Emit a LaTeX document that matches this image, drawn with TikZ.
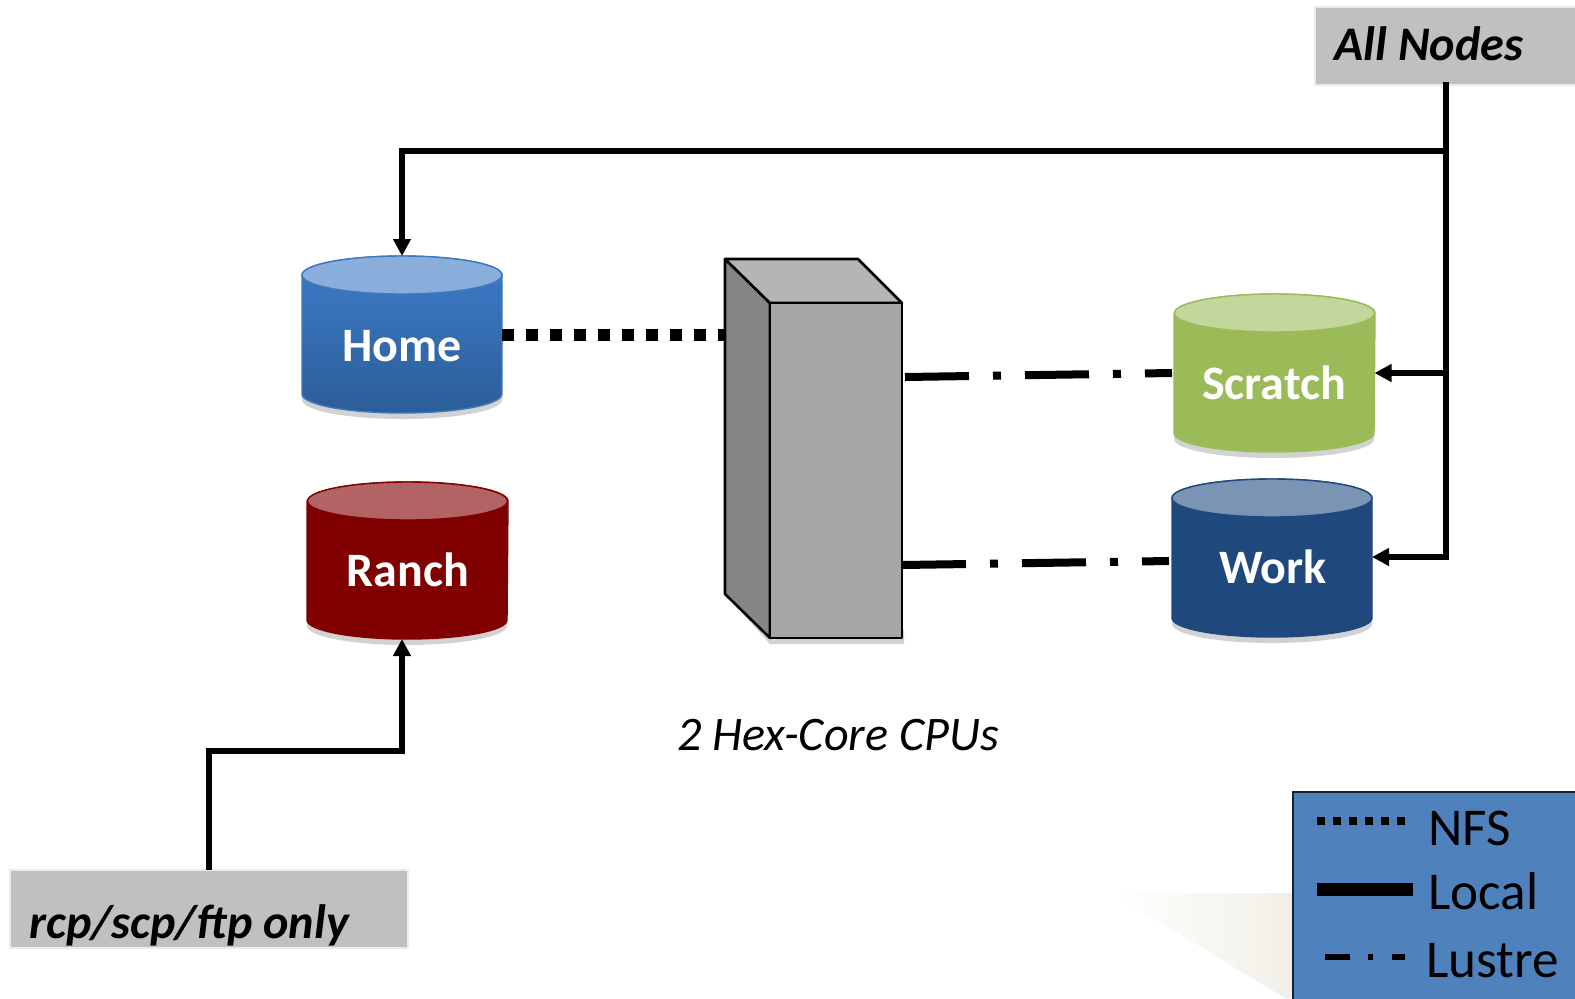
\documentclass[tikz,border=0pt]{standalone}
\usepackage{fontspec}
\setmainfont{Carlito}
\usetikzlibrary{arrows.meta}
\definecolor{boxedge}{HTML}{EEECE1}
\definecolor{boxgray}{HTML}{C0C0C0}
\definecolor{shadowgray}{HTML}{D2D2D2}
\definecolor{homeTop}{HTML}{3D7CC9}
\definecolor{homeBot}{HTML}{2C5D98}
\definecolor{homeLid}{HTML}{8AAEDC}
\definecolor{homeEdge}{HTML}{3F78BC}
\definecolor{ranchred}{HTML}{800000}
\definecolor{ranchLid}{HTML}{B26464}
\definecolor{scratchgreen}{HTML}{9BBB59}
\definecolor{scratchLid}{HTML}{C3D69B}
\definecolor{workblue}{HTML}{1F497D}
\definecolor{workLid}{HTML}{7A94B5}
\definecolor{legendblue}{HTML}{4F81BD}
\tikzset{
  anchorbox/.style={inner sep=0pt,outer sep=0pt,draw=none},
  cyltext/.style={anchor=base,text=white,font=\fontsize{24}{28}\selectfont\bfseries,inner sep=0pt},
  tagbox/.style={fill=boxgray,draw=boxedge,line width=1pt,inner sep=0pt,outer sep=0pt},
  tagtext/.style={anchor=base west,inner sep=0pt,font=\fontsize{24.1}{28}\selectfont\bfseries\itshape},
  legendtext/.style={anchor=base west,inner sep=0pt,font=\fontsize{26.6}{30}\selectfont},
  localline/.style={line width=2.9pt,draw=black},
  localarrow/.style={localline,-{Triangle[length=8.5pt,width=8.5pt]}},
  nfsline/.style={line width=6pt,draw=black,dash pattern=on 6pt off 6pt},
  lustreline/.style={line width=4pt,draw=black,dash pattern=on 32pt off 12pt on 4pt off 12pt},
}
% name, x1, x2, top, bottom, body fill options, lid colour, edge colour
\newcommand{\cylshape}[8]{%
  \path[fill=shadowgray] ({#2},{#5-19+6}) arc[start angle=180,end angle=360,x radius=50pt,y radius=9.5pt] -- ({#3},{#4+30}) -- ({#2},{#4+30}) -- cycle;
  \path[#6,draw=#8,line width=0.7pt] ({#2},{#4+19}) -- ({#2},{#5-19}) arc[start angle=180,end angle=360,x radius=50pt,y radius=9.5pt] -- ({#3},{#4+19}) arc[start angle=0,end angle=180,x radius=50pt,y radius=9.5pt] -- cycle;
  \path[fill=#7,draw=#8,line width=0.7pt] ({(#2+#3)/2},{#4+19}) ellipse[x radius=50pt,y radius=9.5pt];
  \node[anchorbox,minimum width=100pt,minimum height={(#5-#4)*0.5pt}] (#1) at ({(#2+#3)/2},{(#4+#5)/2}) {};
}
\begin{document}
\begin{tikzpicture}[x=0.5pt,y=-0.5pt]
\useasboundingbox (0,0) rectangle (1575,998);
\fill[white] (0,0) rectangle (1575,998);

% faint shadow behind the legend
\shade[left color=white,middle color=boxedge!85!white,right color=boxedge!85!white] (1112,893) -- (1300,893) -- (1300,998) -- (1285,998) -- cycle;

% storage cylinders
\cylshape{home}{302}{502}{256}{413}{top color=homeTop,bottom color=homeBot}{homeLid}{homeEdge}
\cylshape{ranch}{307}{508}{482}{639}{fill=ranchred}{ranchLid}{ranchred}
\cylshape{scratch}{1174}{1375}{294}{452}{fill=scratchgreen}{scratchLid}{scratchgreen}
\cylshape{work}{1172}{1372}{479}{637}{fill=workblue}{workLid}{workblue}
\node[cyltext] (homeText) at (402,361) {Home};
\node[cyltext] (ranchText) at (408,586) {Ranch};
\node[cyltext] (scratchText) at (1274,399) {Scratch};
\node[cyltext] (workText) at (1273,583) {Work};

% server block
\fill[shadowgray] (725,594) -- (770,644) -- (904,644) -- (904,630) -- (725,590) -- cycle;
\path[fill=black!48,draw=black,line width=1.3pt,line join=round] (725,259) -- (770,303) -- (770,638) -- (725,594) -- cycle;
\path[fill=black!29,draw=black,line width=1.3pt,line join=round] (725,259) -- (858,259) -- (902,303) -- (770,303) -- cycle;
\path[fill=black!35,draw=black,line width=1.3pt,line join=round] (770,303) rectangle (902,638);
\node[anchorbox,minimum width=88.5pt,minimum height=189.5pt] (server) at (813.5,448.5) {};
\node[anchor=base,inner sep=0pt,font=\fontsize{24.1}{28}\selectfont\itshape] (serverText) at (838,750) {2 Hex-Core CPUs};

% tag boxes
\node[tagbox,minimum width=131pt,minimum height=39pt] (allnodes) at (1446,46) {};
\node[tagtext] (allnodesText) at (1334,60) {All Nodes};
\node[tagbox,minimum width=199pt,minimum height=39pt] (rcp) at (209,909) {};
\node[tagtext] (rcpText) at (29,938) {rcp/scp/ftp only};

% Local connectors
\coordinate (trunkTop) at (1446,151);
\coordinate (trunkScratch) at (1446,373);
\coordinate (trunkWork) at (1446,557);
\coordinate (workIn) at (1372,557);
\coordinate (ranchIn) at (402,639);
\coordinate (ranchBend) at (209,751);
\draw[localline,line cap=rect] (allnodes.south) -- (trunkWork);
\draw[localarrow] (trunkTop) -| (home.north);
\draw[localarrow] (trunkScratch) -- (scratch.east);
\draw[localarrow] (trunkWork) -- (workIn);
\draw[localarrow] (rcp.north -| ranchBend) -- (ranchBend) -| (ranchIn);

% NFS connector
\draw[nfsline] (home.east) -- (server.west |- home.east);

% Lustre connectors
\coordinate (serverTopOut) at (905,377);
\coordinate (serverLowOut) at (902,565);
\coordinate (scratchIn) at (1172,373);
\coordinate (workLustre) at (1169,561);
\draw[lustreline] (serverTopOut) -- (scratchIn);
\draw[lustreline] (serverLowOut) -- (workLustre);

% legend
\path[fill=legendblue,draw=black!75!legendblue,line width=1.4pt] (1293,792) rectangle (1590,1010);
\coordinate (nfsA) at (1317,821);
\coordinate (nfsB) at (1406,821);
\coordinate (localA) at (1317,889);
\coordinate (localB) at (1413,889);
\coordinate (lustreA) at (1325,957);
\coordinate (lustreB) at (1405,957);
\draw[line width=4pt,dash pattern=on 4pt off 4pt] (nfsA) -- (nfsB);
\draw[line width=6.5pt] (localA) -- (localB);
\draw[line width=2.8pt,dash pattern=on 12.5pt off 9pt on 2.5pt off 9.5pt] (lustreA) -- (lustreB);
\node[legendtext] (nfsText) at (1428,845) {NFS};
\node[legendtext] (localText) at (1428,909) {Local};
\node[legendtext] (lustreText) at (1426,977) {Lustre};
\end{tikzpicture}
\end{document}
